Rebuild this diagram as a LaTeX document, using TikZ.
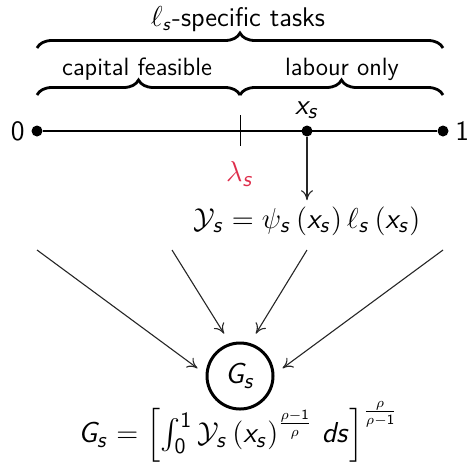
\documentclass[tikz,border=0pt]{standalone}
\usepackage{amsmath,amssymb}
\usepackage{tikz}
\usetikzlibrary{arrows.meta,positioning,decorations.pathreplacing,calc}
% sans serif letters in math, as on the slides
\DeclareSymbolFont{sfit}{OT1}{cmss}{m}{sl}
\DeclareSymbolFont{sfup}{OT1}{cmss}{m}{n}
\DeclareMathSymbol{G}{\mathalpha}{sfit}{`G}
\DeclareMathSymbol{x}{\mathalpha}{sfit}{`x}
\DeclareMathSymbol{s}{\mathalpha}{sfit}{`s}
\DeclareMathSymbol{d}{\mathalpha}{sfit}{`d}
\DeclareMathSymbol{0}{\mathalpha}{sfup}{`0}
\DeclareMathSymbol{1}{\mathalpha}{sfup}{`1}
\definecolor{lambdared}{RGB}{222,45,75}
\tikzset{
  task/brace/.style={decorate, decoration={brace, amplitude=7.5pt}, line width=1.4pt},
  task/label/.style={font=\sffamily\fontsize{12.5}{14}\selectfont, inner sep=1pt},
  task/axis/.style={line width=0.8pt},
  task/dot/.style={circle, fill=black, inner sep=0pt, minimum size=5.5pt},
  task/tick/.style={line width=0.5pt},
  task/math/.style={font=\fontsize{15}{17}\selectfont, inner sep=1pt},
  task/agg/.style={draw, circle, line width=1.5pt, minimum size=33pt, inner sep=0pt},
  task/flow/.style={-{To[length=5pt,width=6pt]}, draw=black!85, line width=0.55pt}
}

\begin{document}
\begin{tikzpicture}[x=0.5pt, y=-0.5pt]
  \useasboundingbox (0,0) rectangle (469,467);

  % braces over the task line
  \coordinate (topL) at (37,48);
  \coordinate (topR) at (443,48);
  \coordinate (lowL) at (37,95);
  \coordinate (lowM) at (240,95);
  \coordinate (lowR) at (443,95);
  \draw[task/brace] (topL) -- (topR);
  \draw[task/brace] (lowL) -- (lowM);
  \draw[task/brace] (lowM) -- (lowR);
  \node[task/label, font=\sffamily\fontsize{13.5}{15}\selectfont] (alltasks) at (238,19) {$\ell_s$-specific tasks};
  \node[task/label] (capital) at (137,69) {capital feasible};
  \node[task/label] (labour) at (342,69) {labour only};

  % unit interval
  \node[task/dot] (zero) at (37,131) {};
  \node[task/dot] (one) at (443,131) {};
  \node[task/dot] (xs) at (307,131) {};
  \draw[task/axis] (zero) -- (one);
  \node[task/label, font=\sffamily\fontsize{14}{16}\selectfont, left=2pt of zero] (zerolab) {0};
  \node[task/label, font=\sffamily\fontsize{14}{16}\selectfont, right=2pt of one] (onelab) {1};
  \node[task/math, above=2pt of xs] (xslab) {$x_s$};
  \coordinate (lamtop) at (240,115);
  \coordinate (lambot) at (240,146);
  \draw[task/tick] (lamtop) -- (lambot);
  \node[task/math, text=lambdared] (lambda) at (240,174) {$\lambda_s$};

  % output of task x_s
  \node[task/math] (output) at (307,221)
    {$\mathcal{Y}_s = \psi_s\left(x_s\right)\ell_s\left(x_s\right)$};
  \draw[task/flow] (xs) -- ([yshift=2pt]output.north -| xs);

  % aggregation
  \node[task/agg, task/math] (G) at (240,376) {$G_s$};
  \coordinate (in1) at (37,250);
  \coordinate (in2) at (172,250);
  \coordinate (in3) at (307,250);
  \coordinate (in4) at (443,250);
  \draw[task/flow, shorten >=5pt] (in1) -- (G.177);
  \draw[task/flow, shorten >=5.5pt] (in2) -- (G.107);
  \draw[task/flow, shorten >=5.5pt] (in3) -- (G.73);
  \draw[task/flow, shorten >=5pt] (in4) -- (G.3);
  \node[task/math] (ces) at (238,432)
    {$G_s = \left[\int_0^1 \mathcal{Y}_s\left(x_s\right)^{\frac{\rho-1}{\rho}}\,ds\right]^{\frac{\rho}{\rho-1}}$};
\end{tikzpicture}
\end{document}
